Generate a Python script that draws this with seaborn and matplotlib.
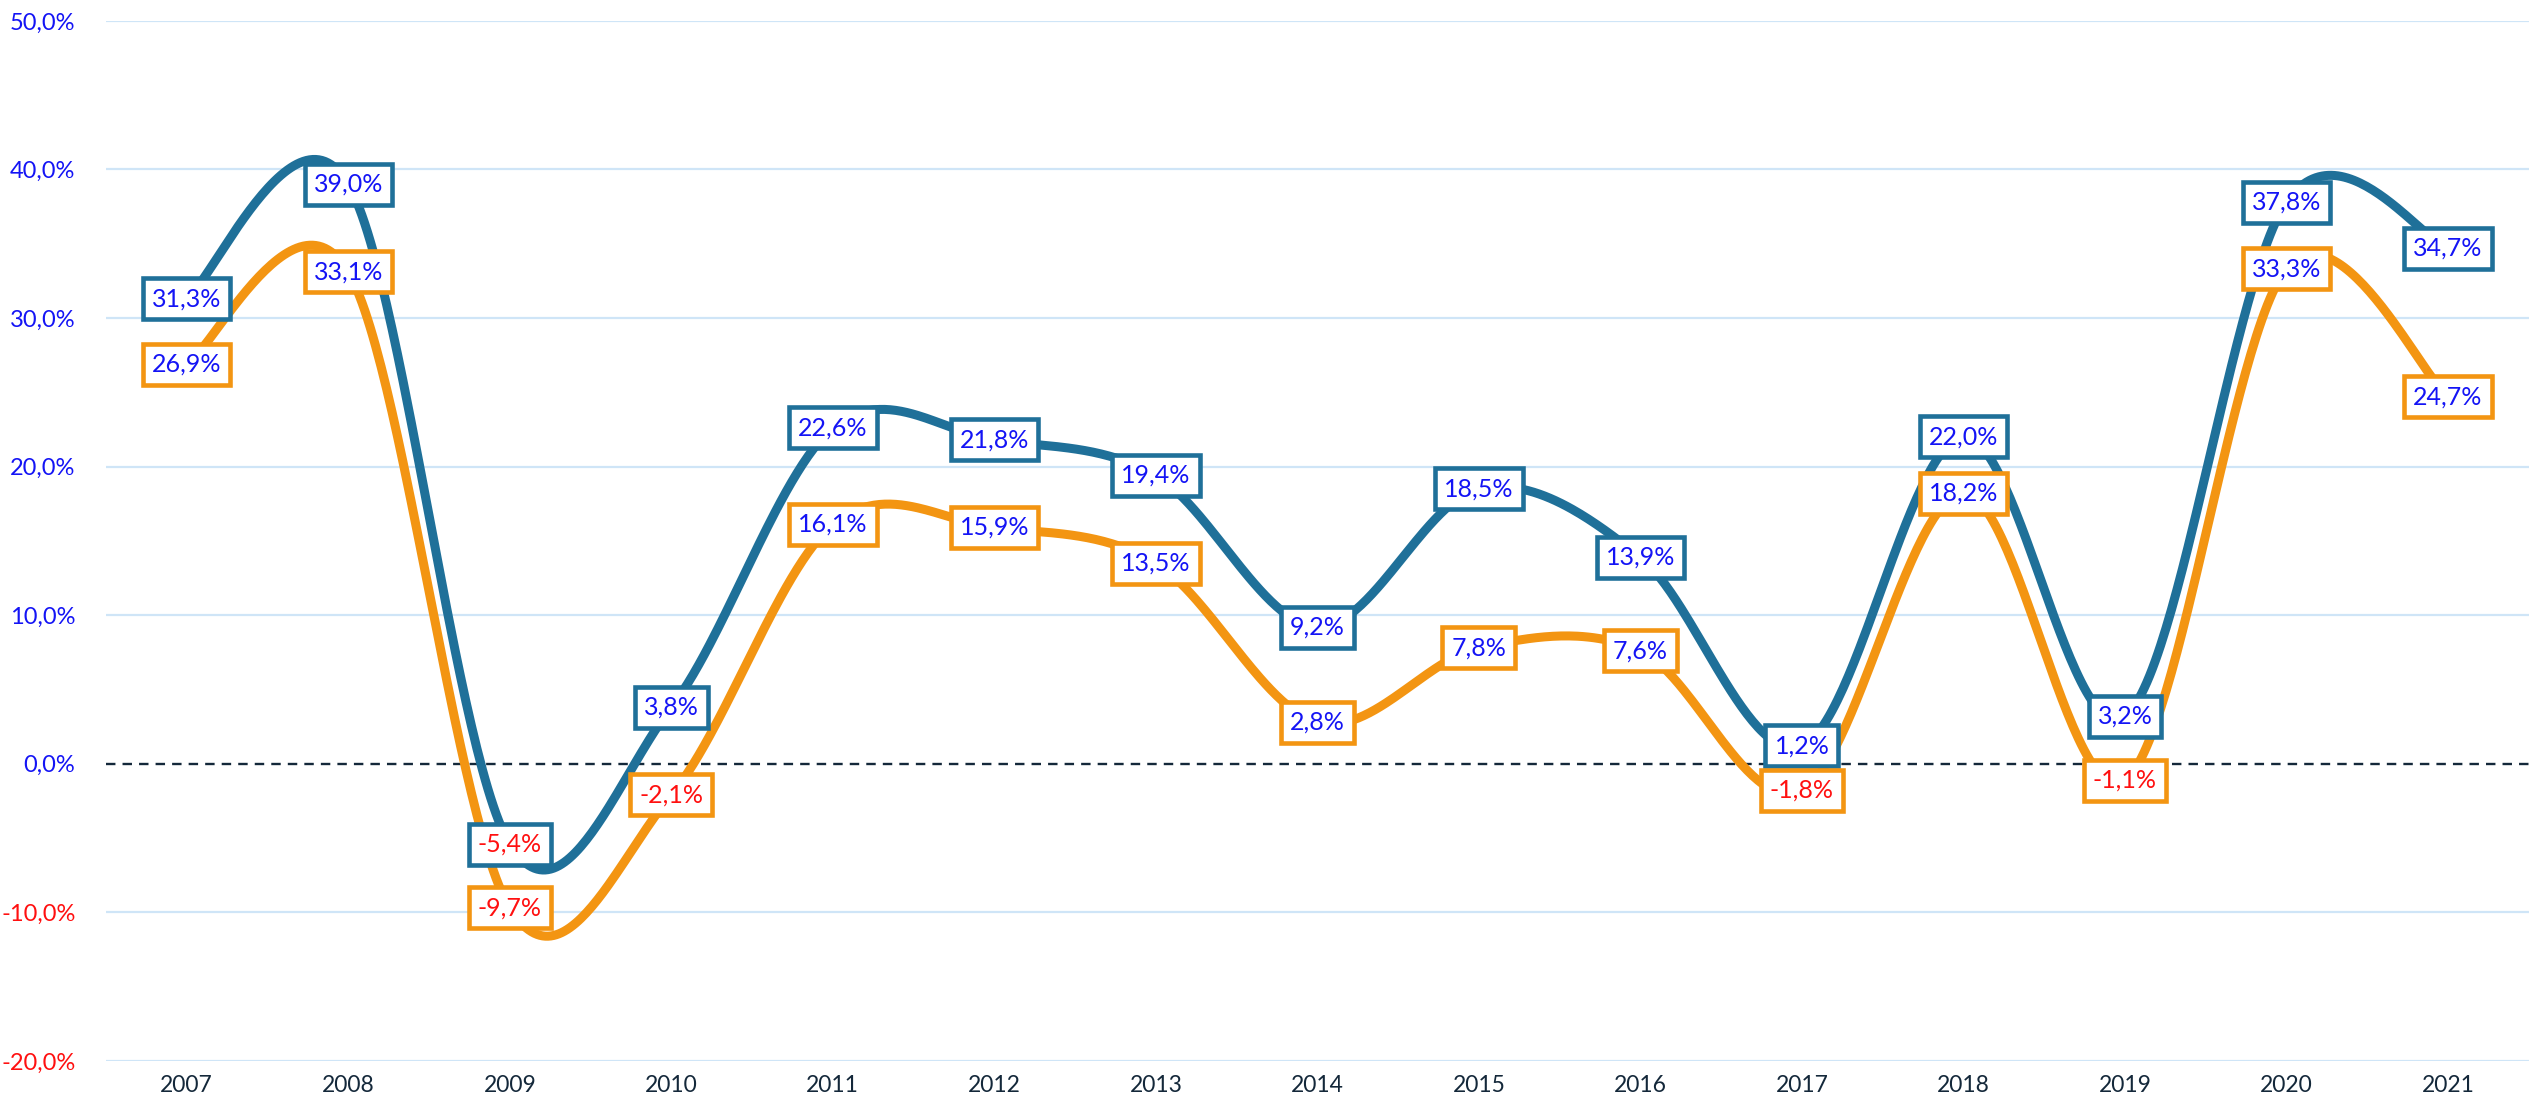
import numpy as np
import pandas as pd
import matplotlib
matplotlib.use("Agg")
import matplotlib.pyplot as plt
import seaborn as sns

years = [2007, 2008, 2009, 2010, 2011, 2012, 2013, 2014, 2015, 2016, 2017, 2018, 2019, 2020, 2021]
series_blue = [31.3, 39.0, -5.4, 3.8, 22.6, 21.8, 19.4, 9.2, 18.5, 13.9, 1.2, 22.0, 3.2, 37.8, 34.7]
series_orange = [26.9, 33.1, -9.7, -2.1, 16.1, 15.9, 13.5, 2.8, 7.8, 7.6, -1.8, 18.2, -1.1, 33.3, 24.7]
y_ticks = [-20, -10, 0, 10, 20, 30, 40, 50]

BLUE = "#1F7099"
ORANGE = "#F39512"
TXT_POS = "#1414F5"
TXT_NEG = "#FF1010"
GRID = "#CFE5F7"
DARK = "#14283A"

sns.set_theme(style="white")
plt.rcParams["font.family"] = ["Lato", "DejaVu Sans"]


def smooth(xv, yv, n=60):
    """Excel-style smoothing: Catmull-Rom converted to cubic Bezier."""
    P = np.column_stack([xv, yv]).astype(float)
    out = []
    for i in range(len(P) - 1):
        p0 = P[i - 1] if i > 0 else P[i]
        p1 = P[i]
        p2 = P[i + 1]
        p3 = P[i + 2] if i + 2 < len(P) else P[i + 1]
        c1 = p1 + (p2 - p0) / 6.0
        c2 = p2 - (p3 - p1) / 6.0
        t = np.linspace(0, 1, n)[:, None]
        seg = ((1 - t) ** 3) * p1 + 3 * ((1 - t) ** 2) * t * c1 + 3 * (1 - t) * t ** 2 * c2 + t ** 3 * p2
        if i > 0:
            seg = seg[1:]
        out.append(seg)
    out = np.vstack(out)
    return out[:, 0], out[:, 1]


fig = plt.figure(figsize=(25.29, 11.03), dpi=100)
ax = fig.add_axes([0.0419, 0.0381, 0.958, 0.943])

pos = np.arange(len(years))

# grid lines
for v in y_ticks:
    if v == 0:
        continue
    ax.axhline(v, color=GRID, lw=1.6, zorder=0)
ax.axhline(0, color=DARK, lw=1.7, ls=(0, (4, 3)), zorder=1)

for vals, col, z in [(series_blue, BLUE, 2), (series_orange, ORANGE, 3)]:
    sx, sy = smooth(pos, vals)
    df = pd.DataFrame({"x": sx, "y": sy})
    sns.lineplot(data=df, x="x", y="y", sort=False, ax=ax, color=col, lw=6.5,
                 solid_capstyle="round", zorder=z)

for vals, col in [(series_blue, BLUE), (series_orange, ORANGE)]:
    for x, v in zip(pos, vals):
        lbl = f"{v:.1f}%".replace(".", ",")
        ax.text(x, v, lbl, ha="center", va="center", fontsize=18,
                color=TXT_POS if v >= 0 else TXT_NEG, zorder=5,
                bbox=dict(boxstyle="square,pad=0.36", fc="white", ec=col, lw=3.3))

ax.set_xlim(-0.5, len(years) - 0.5)
ax.set_ylim(-20, 50)
ax.set_xticks(pos)
ax.set_xticklabels([str(y) for y in years], fontsize=16.5, color=DARK)
ax.set_yticks(y_ticks)
ax.set_yticklabels([f"{v:.1f}%".replace(".", ",") for v in y_ticks], fontsize=17)
for t, v in zip(ax.get_yticklabels(), y_ticks):
    t.set_color(TXT_POS if v >= 0 else TXT_NEG)
ax.tick_params(axis="both", length=0)
ax.tick_params(axis="y", pad=22)
ax.tick_params(axis="x", pad=10)
ax.set_xlabel("")
ax.set_ylabel("")
for s in ax.spines.values():
    s.set_visible(False)
ax.grid(False)

fig.savefig("out.png", dpi=100, facecolor="white")
